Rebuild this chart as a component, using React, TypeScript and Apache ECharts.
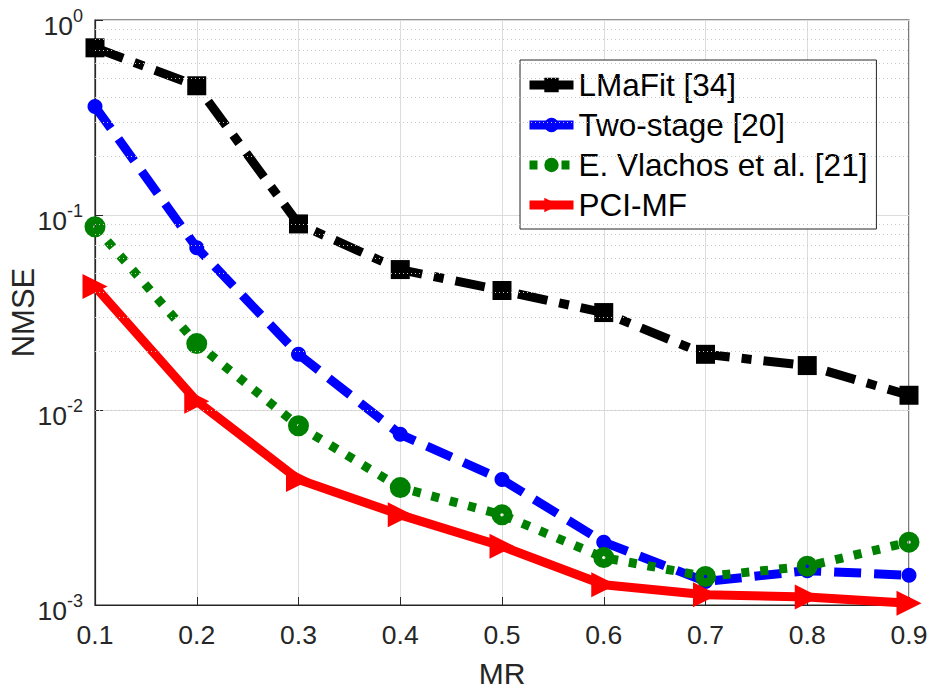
import React, { useEffect, useRef } from "react";
import * as echarts from "echarts";

const mrValues = [0.1, 0.2, 0.3, 0.4, 0.5, 0.6, 0.7, 0.8, 0.9];
const lmafit = [0.72, 0.46, 0.09, 0.0525, 0.041, 0.0316, 0.0193, 0.0169, 0.0119];
const twoStage = [0.36, 0.068, 0.0193, 0.0075, 0.0044, 0.0021, 0.00132, 0.0015, 0.00142];
const vlachos = [0.087, 0.0219, 0.0083, 0.004, 0.0029, 0.00175, 0.0014, 0.00158, 0.0021];
const pciMf = [0.043, 0.0111, 0.0044, 0.0029, 0.002, 0.00127, 0.00113, 0.0011, 0.00102];
const seriesNames = ["LMaFit [34]", "Two-stage [20]", "E. Vlachos et al. [21]", "PCI-MF"];
const minorGridValues: number[] = [];
[0.001, 0.01, 0.1].forEach((d) => {
  [2, 3, 4, 5, 6, 7, 8, 9].forEach((m) => minorGridValues.push(+(d * m).toPrecision(3)));
});

const AX = "#262626";
const FONT = "Liberation Sans, Arial, Helvetica, sans-serif";
const ringPath =
  "path://M0,-10A10,10 0 1,1 0,10A10,10 0 1,1 0,-10ZM0,-1.6A1.6,1.6 0 1,0 0,1.6A1.6,1.6 0 1,0 0,-1.6Z";

export default function App() {
  const ref = useRef<HTMLDivElement>(null);
  useEffect(() => {
    if (!ref.current) return;
    document.body.style.overflow = "hidden";
    const chart = echarts.init(ref.current, undefined, { renderer: "svg" });
    const toPairs = (arr: number[]) => arr.map((v, i) => [mrValues[i], v]);
    chart.setOption({
      animation: false,
      backgroundColor: "#ffffff",
      textStyle: { fontFamily: FONT },
      grid: {
        left: 95,
        right: 21,
        top: 20,
        bottom: 84,
        containLabel: false,
        outerBoundsMode: "none",
        show: true,
        borderColor: AX,
        borderWidth: 1.2,
        backgroundColor: "transparent",
      },
      legend: {
        orient: "vertical",
        left: 520,
        top: 60,
        padding: [9, 9, 8, 5],
        itemGap: 8,
        itemWidth: 44,
        itemHeight: 18,
        backgroundColor: "#ffffff",
        borderColor: AX,
        borderWidth: 1,
        borderRadius: 0,
        data: [
          { name: seriesNames[0], lineStyle: { type: "solid", width: 9 } },
          { name: seriesNames[1], lineStyle: { type: "solid", width: 9 } },
          { name: seriesNames[2], lineStyle: { type: [8, 8], width: 9 } },
          { name: seriesNames[3], lineStyle: { type: "solid", width: 9 } },
        ],
        lineStyle: { width: 9 },
        textStyle: { fontSize: 31.5, color: "#000", lineHeight: 32, fontFamily: FONT },
      },
      xAxis: {
        type: "value",
        min: 0.1,
        max: 0.9,
        interval: 0.1,
        name: "MR",
        nameLocation: "middle",
        nameGap: 53,
        nameMoveOverlap: false,
        nameTextStyle: { fontSize: 30, color: AX },
        axisLine: { lineStyle: { color: AX, width: 1.2 } },
        axisTick: { inside: true, length: 8, lineStyle: { color: AX } },
        axisLabel: {
          fontSize: 26.5,
          color: AX,
          margin: 16,
          formatter: (v: number) => v.toFixed(1),
        },
        splitLine: { show: true, lineStyle: { color: "#dcdcdc", width: 1 } },
      },
      yAxis: {
        type: "log",
        logBase: 10,
        min: 0.001,
        max: 1,
        name: "NMSE",
        nameLocation: "middle",
        nameGap: 56,
        nameMoveOverlap: false,
        nameTextStyle: { fontSize: 31, color: AX },
        axisLine: { show: true, lineStyle: { color: AX, width: 1.2 } },
        axisTick: { show: true, inside: true, length: 8, lineStyle: { color: AX } },
        axisLabel: {
          color: AX,
          margin: 12,
          formatter: (v: number) => `{b|10}{s|${Math.round(Math.log10(v))}}`,
          rich: {
            b: { fontSize: 26.5, color: AX, padding: [12, 0, 0, 0] },
            s: { fontSize: 18, color: AX, padding: [0, 0, 8, 0] },
          },
        },
        splitLine: { show: true, lineStyle: { color: "#dcdcdc", width: 1 } },
      },
      series: [
        {
          name: "gridMinor",
          type: "line",
          data: [],
          silent: true,
          markLine: {
            silent: true,
            symbol: "none",
            label: { show: false },
            lineStyle: { color: "#c8c8c8", type: [1, 3], width: 1 },
            data: minorGridValues.map((v) => ({ yAxis: v })),
          },
        },
        {
          name: seriesNames[0],
          type: "line",
          data: toPairs(lmafit),
          clip: false,
          color: "#000000",
          symbol: "rect",
          symbolSize: 19,
          lineStyle: { width: 9, color: "#000000", type: [30, 12, 10, 12] },
          itemStyle: { color: "#000000" },
        },
        {
          name: seriesNames[1],
          type: "line",
          data: toPairs(twoStage),
          clip: false,
          color: "#0000ff",
          symbol: "circle",
          symbolSize: 15,
          lineStyle: { width: 9, color: "#0000ff", type: [27, 13] },
          itemStyle: { color: "#0000ff" },
        },
        {
          name: seriesNames[2],
          type: "line",
          data: toPairs(vlachos),
          clip: false,
          color: "#008000",
          symbol: ringPath,
          symbolSize: 21,
          lineStyle: { width: 9, color: "#008000", type: [8, 11] },
          itemStyle: { color: "#008000" },
        },
        {
          name: seriesNames[3],
          type: "line",
          data: toPairs(pciMf),
          clip: false,
          color: "#ff0000",
          symbol: "triangle",
          symbolRotate: -90,
          symbolSize: 25,
          lineStyle: { width: 9, color: "#ff0000" },
          itemStyle: { color: "#ff0000" },
        },
      ],
    });
    return () => chart.dispose();
  }, []);
  return (
    <div style={{ position: "fixed", left: 0, top: 0, width: 930, height: 689, overflow: "hidden" }}>
      <div ref={ref} style={{ width: 930, height: 689 }} />
    </div>
  );
}
